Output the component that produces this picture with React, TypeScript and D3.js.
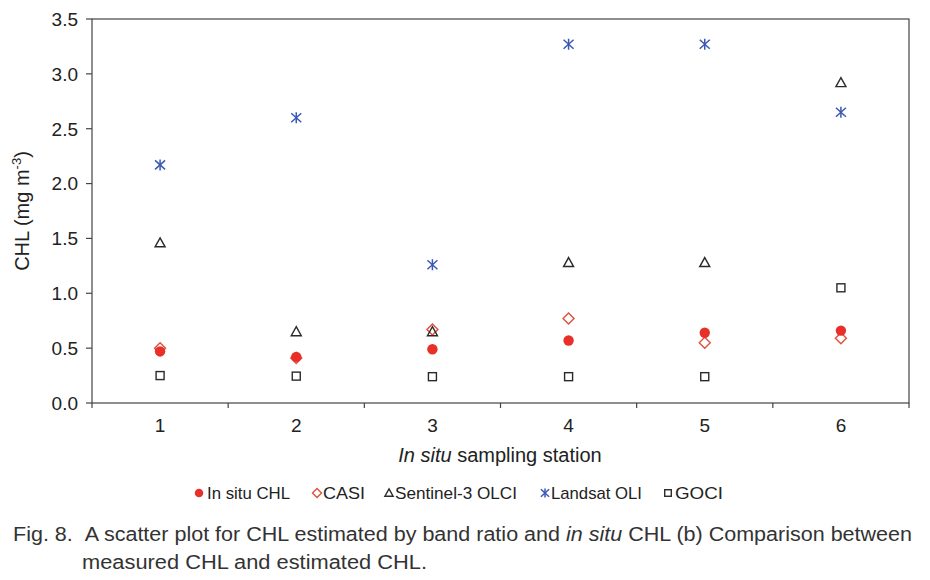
import React from "react";
import * as d3 from "d3";

const stations = [1, 2, 3, 4, 5, 6];
const inSitu = [0.47, 0.42, 0.49, 0.57, 0.64, 0.66];
const casi = [0.5, 0.41, 0.67, 0.77, 0.55, 0.59];
const sentinel = [1.46, 0.65, 0.65, 1.28, 1.28, 2.92];
const landsat = [2.17, 2.6, 1.26, 3.27, 3.27, 2.65];
const goci = [0.25, 0.245, 0.24, 0.24, 0.24, 1.05];
const yTicks = [0, 0.5, 1.0, 1.5, 2.0, 2.5, 3.0, 3.5];
const legendLabels = ["In situ CHL", "CASI", "Sentinel-3 OLCI", "Landsat OLI", "GOCI"];

const W = 930, H = 580;
const ml = 92, mr = 909, mt = 19, mb = 403;
const FONT = "'Liberation Sans', Arial, sans-serif";
const RED = "#e8302a";
const DRED = "#e0503c";
const BLUE = "#3a58b4";
const DARK = "#2a2a2a";

function Marker({ type, x, y, s = 1 }: { type: string; x: number; y: number; s?: number }) {
  if (type === "dot") return <circle cx={x} cy={y} r={5.2 * s} fill={RED} />;
  if (type === "diamond") {
    const a = 5.5 * s;
    return <path d={`M${x},${y - a}L${x + a},${y}L${x},${y + a}L${x - a},${y}Z`} fill="none" stroke={DRED} strokeWidth={1.4} />;
  }
  if (type === "tri")
    return <path d={`M${x},${y - 5 * s}L${x + 5 * s},${y + 4 * s}L${x - 5 * s},${y + 4 * s}Z`} fill="none" stroke={DARK} strokeWidth={1.4} />;
  if (type === "star")
    return (
      <g stroke={BLUE} strokeWidth={1.5}>
        <line x1={x} y1={y - 5.5 * s} x2={x} y2={y + 5.5 * s} />
        <line x1={x - 5 * s} y1={y - 4.5 * s} x2={x + 5 * s} y2={y + 4.5 * s} />
        <line x1={x - 5 * s} y1={y + 4.5 * s} x2={x + 5 * s} y2={y - 4.5 * s} />
      </g>
    );
  return <rect x={x - 4 * s} y={y - 4 * s} width={8 * s} height={8 * s} fill="none" stroke={DARK} strokeWidth={1.4} />;
}

export default function App() {
  const x = d3.scaleLinear().domain([0.5, 6.5]).range([ml, mr]);
  const y = d3.scaleLinear().domain([0, 3.5]).range([mb, mt]);
  const series: { type: string; vals: number[] }[] = [
    { type: "diamond", vals: casi },
    { type: "tri", vals: sentinel },
    { type: "star", vals: landsat },
    { type: "square", vals: goci },
    { type: "dot", vals: inSitu },
  ];
  const xBounds = d3.range(0.5, 6.6, 1);
  const legendItems = [
    { type: "dot", lx: 199, tx: 207, tw: 83, label: legendLabels[0] },
    { type: "diamond", lx: 317, tx: 323, tw: 42, label: legendLabels[1] },
    { type: "tri", lx: 389, tx: 395, tw: 122, label: legendLabels[2] },
    { type: "star", lx: 545, tx: 551, tw: 91, label: legendLabels[3] },
    { type: "square", lx: 668, tx: 675, tw: 48, label: legendLabels[4] },
  ];
  return (
    <svg width={W} height={H} style={{ position: "absolute", left: 0, top: 0, background: "#fff" }} fontFamily={FONT}>
      <rect x={0} y={0} width={W} height={H} fill="#fff" />
      <rect x={ml} y={mt} width={mr - ml} height={mb - mt} fill="none" stroke="#444" strokeWidth={1.2} />
      {yTicks.map((t) => (
        <g key={t}>
          <line x1={ml - 6} x2={ml} y1={y(t)} y2={y(t)} stroke="#444" strokeWidth={1.2} />
          <text x={78} y={y(t)} dy="0.36em" textAnchor="end" fontSize={19} fill="#222">
            {t.toFixed(1)}
          </text>
        </g>
      ))}
      {xBounds.map((b) => (
        <line key={b} x1={x(b)} x2={x(b)} y1={mb} y2={mb + 5} stroke="#444" strokeWidth={1.2} />
      ))}
      {stations.map((s) => (
        <text key={s} x={x(s)} y={432} textAnchor="middle" fontSize={19} fill="#222">
          {s}
        </text>
      ))}
      <text x={500} y={462} textAnchor="middle" fontSize={20} fill="#222">
        <tspan fontStyle="italic">In situ</tspan> sampling station
      </text>
      <text transform="translate(29,211) rotate(-90)" textAnchor="middle" fontSize={20} fill="#222">
        CHL (mg m<tspan dy={-8} fontSize={13}>-3</tspan><tspan dy={8}>)</tspan>
      </text>
      {series.map((s) =>
        s.vals.map((v, i) => <Marker key={s.type + i} type={s.type} x={x(stations[i])} y={y(v)} />)
      )}
      {legendItems.map((it) => (
        <g key={it.label}>
          <Marker type={it.type} x={it.lx} y={493} s={0.82} />
          <text x={it.tx} y={493} dy="0.36em" fontSize={17} fill="#222" textLength={it.tw} lengthAdjust="spacingAndGlyphs">
            {it.label}
          </text>
        </g>
      ))}
      <text x={13} y={541} fontSize={19.5} fill="#333" textLength={899} lengthAdjust="spacingAndGlyphs">
        Fig. 8.{"\u00a0\u00a0"}A scatter plot for CHL estimated by band ratio and <tspan fontStyle="italic">in situ</tspan> CHL (b) Comparison between
      </text>
      <text x={82} y={569} fontSize={19.5} fill="#333" textLength={345} lengthAdjust="spacingAndGlyphs">
        measured CHL and estimated CHL.
      </text>
    </svg>
  );
}
